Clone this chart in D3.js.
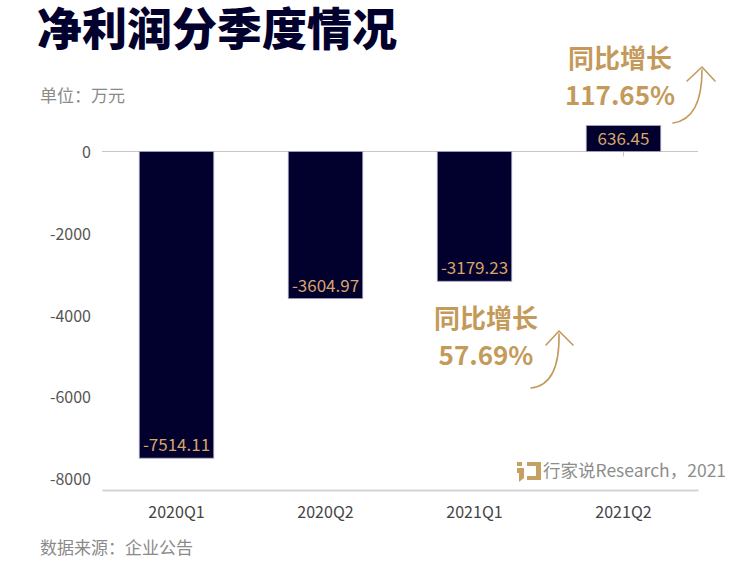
<!DOCTYPE html>
<html>
<head>
<meta charset="utf-8">
<script src="https://cdn.jsdelivr.net/npm/d3@7"></script>
<style>
  body { margin: 0; background: #fff; }
  svg { display: block; font-family: "Noto Sans CJK SC", "Noto Sans", sans-serif; }
</style>
</head>
<body>
<svg id="chart" width="756" height="562"></svg>
<script>
// 净利润分季度情况, 单位：万元
const quarters = ['2020Q1', '2020Q2', '2021Q1', '2021Q2'];
const netProfit = [-7514.11, -3604.97, -3179.23, 636.45];
const yTicks = [0, -2000, -4000, -6000, -8000];
const growthNotes = [
  {title: '同比增长', rate: '117.65%'},
  {title: '同比增长', rate: '57.69%'}
];

const navy = '#02012e', tan = '#c49a5a', labelTan = '#d9a468';
const fontFam = '"Noto Sans CJK SC", "Noto Sans", sans-serif';

const svg = d3.select('#chart');

const x = d3.scaleBand().domain(quarters).range([102, 698]).paddingInner(0.5).paddingOuter(0.25);
const y = d3.scaleLinear().domain([-8000, 0]).range([478, 151.5]);

// title + notes
svg.append('text')
  .attr('x', 37).attr('y', 46)
  .attr('font-size', 45).attr('font-weight', 900)
  .attr('fill', navy)
  .text('净利润分季度情况');

svg.append('text')
  .attr('x', 40).attr('y', 102)
  .attr('font-size', 17).attr('fill', '#8a8a8a')
  .text('单位：万元');

svg.append('text')
  .attr('x', 40).attr('y', 554)
  .attr('font-size', 17).attr('fill', '#8a8a8a')
  .text('数据来源：企业公告');

// y axis labels only
const yAxis = svg.append('g')
  .attr('transform', 'translate(91,0)')
  .call(d3.axisLeft(y).tickValues(yTicks).tickSize(0).tickFormat(d => String(d)));
yAxis.select('.domain').remove();
yAxis.selectAll('text')
  .attr('x', 0)
  .attr('dy', '0.4em')
  .attr('font-size', 16)
  .attr('font-family', fontFam)
  .attr('fill', '#555');

// zero line with category ticks
svg.append('line')
  .attr('x1', 102).attr('x2', 698)
  .attr('y1', y(0)).attr('y2', y(0))
  .attr('stroke', '#c8c8c8').attr('stroke-width', 1.2);
svg.selectAll('.cat-tick')
  .data(quarters)
  .enter()
  .append('line')
  .attr('class', 'cat-tick')
  .attr('x1', d => x(d) + x.bandwidth() / 2)
  .attr('x2', d => x(d) + x.bandwidth() / 2)
  .attr('y1', y(0)).attr('y2', y(0) + 5)
  .attr('stroke', '#c8c8c8');

// bottom category axis
const xAxis = svg.append('g')
  .attr('transform', 'translate(0,' + (y(-8000) + 12) + ')')
  .call(d3.axisBottom(x).tickSize(0).tickPadding(17));
xAxis.select('.domain').attr('stroke', '#d4d4d4').attr('stroke-width', 2);
xAxis.selectAll('text')
  .attr('font-size', 16)
  .attr('font-family', fontFam)
  .attr('fill', '#444');

// bars
const bars = quarters.map((q, i) => ({q: q, v: netProfit[i]}));

svg.selectAll('.bar')
  .data(bars)
  .enter()
  .append('rect')
  .attr('class', 'bar')
  .attr('x', d => x(d.q))
  .attr('y', d => y(Math.max(0, d.v)))
  .attr('width', x.bandwidth())
  .attr('height', d => Math.abs(y(d.v) - y(0)))
  .attr('fill', navy)
  .attr('stroke', '#a9a7c4')
  .attr('stroke-width', 0.8);

svg.selectAll('.bar-label')
  .data(bars)
  .enter()
  .append('text')
  .attr('class', 'bar-label')
  .attr('x', d => x(d.q) + x.bandwidth() / 2)
  .attr('y', d => d.v < 0 ? y(d.v) - 7 : (y(d.v) + y(0)) / 2 + 6)
  .attr('text-anchor', 'middle')
  .attr('font-size', 17)
  .attr('fill', labelTan)
  .text(d => d.v.toFixed(2));

// growth annotations
function drawNote(cx, top, note) {
  svg.append('text')
    .attr('x', cx).attr('y', top)
    .attr('text-anchor', 'middle')
    .attr('font-size', 26).attr('font-weight', 700)
    .attr('fill', tan)
    .text(note.title);
  svg.append('text')
    .attr('x', cx).attr('y', top + 37)
    .attr('text-anchor', 'middle')
    .attr('font-size', 26).attr('font-weight', 700)
    .attr('fill', tan)
    .text(note.rate);
}
drawNote(620, 68, growthNotes[0]);
drawNote(486, 328, growthNotes[1]);

function arrow(p) {
  svg.append('path')
    .attr('d', p)
    .attr('fill', 'none')
    .attr('stroke', tan)
    .attr('stroke-width', 1.6)
    .attr('stroke-linecap', 'round')
    .attr('stroke-linejoin', 'round');
}
arrow('M673,123 Q702,119 702,70');
arrow('M687,81 L702,67 L715,81');
arrow('M531,388 Q560,385 559,334');
arrow('M546,345 L559,331 L573,345');

// watermark
const logo = svg.append('g').attr('fill', '#c4a063');
logo.append('rect').attr('x', 517).attr('y', 462).attr('width', 5).attr('height', 4);
logo.append('path').attr('d', 'M517,468 L524,468 L524,478 L519,482 L519,473 L517,473 Z');
logo.append('path').attr('d', 'M527,462 L541,462 L541,480 L527,480 L527,476 L536,476 L536,466 L527,466 Z');
svg.append('text')
  .attr('x', 543).attr('y', 477)
  .attr('font-size', 17.5)
  .attr('fill', '#8d8d8d')
  .text('行家说Research，2021');
</script>
</body>
</html>
